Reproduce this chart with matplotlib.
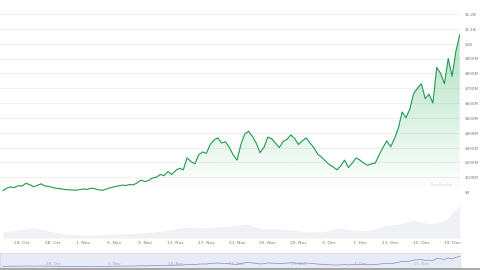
import numpy as np
import pandas as pd
import matplotlib
matplotlib.use("Agg")
import matplotlib.pyplot as plt
import matplotlib.dates as mdates

# market cap in $M, every 12 hours from 21 Oct 12:00
price_musd = [10, 25, 34, 30, 42, 40, 58, 50, 35, 45,
              55, 40, 38, 30, 25, 22, 18, 15, 14, 12,
              16, 20, 18, 26, 22, 14, 12, 20, 28, 35,
              40, 46, 44, 50, 48, 62, 80, 70, 78, 95,
              100, 118, 110, 138, 118, 145, 160, 150, 230, 205,
              190, 250, 270, 260, 320, 350, 365, 330, 338, 300,
              250, 215, 320, 390, 410, 375, 330, 265, 300, 370,
              360, 330, 300, 340, 355, 385, 360, 320, 345, 365,
              330, 300, 255, 235, 210, 185, 170, 150, 175, 215,
              165, 195, 230, 215, 195, 180, 190, 195, 250, 300,
              345, 305, 360, 430, 540, 500, 560, 665, 700, 730,
              630, 660, 600, 840, 800, 730, 900, 780, 950, 1060]

# volume in $M
volume_musd = [60, 80, 100, 70, 40, 30, 30, 40, 40, 50,
               60, 80, 110, 100, 110, 120, 140, 90, 90, 80,
               60, 60, 100, 80, 70, 120, 140, 180, 140, 170, 330]

y_ticks_musd = [0, 100, 200, 300, 400, 500, 600, 700, 800, 900, 1000, 1100, 1200]
y_tick_labels = ["$0", "$100M", "$200M", "$300M", "$400M", "$500M", "$600M",
                 "$700M", "$800M", "$900M", "$1B", "$1.1B", "$1.2B"]

x_tick_dates = ["2023-10-24", "2023-10-28", "2023-11-01", "2023-11-05", "2023-11-09",
                "2023-11-13", "2023-11-17", "2023-11-21", "2023-11-25", "2023-11-29",
                "2023-12-03", "2023-12-07", "2023-12-11", "2023-12-15", "2023-12-19"]
x_tick_labels = ["24. Oct", "28. Oct", "1. Nov", "5. Nov", "9. Nov", "13. Nov",
                 "17. Nov", "21. Nov", "25. Nov", "29. Nov", "3. Dec", "7. Dec",
                 "11. Dec", "15. Dec", "19. Dec"]

nav_tick_dates = ["2023-10-28", "2023-11-05", "2023-11-13", "2023-11-21",
                  "2023-11-29", "2023-12-07", "2023-12-15"]
nav_tick_labels = ["28. Oct", "5. Nov", "13. Nov", "21. Nov", "29. Nov", "7. Dec", "15. Dec"]

times = pd.date_range("2023-10-21 12:00", periods=len(price_musd), freq="12h")
vol_times = pd.date_range(times[0], times[-1], periods=len(volume_musd))
x = mdates.date2num(times)
xv = mdates.date2num(vol_times)
price = np.array(price_musd)

W, H = 480, 270
fig = plt.figure(figsize=(4.8, 2.7), dpi=100)
fig.patch.set_facecolor("white")

day0 = mdates.date2num(pd.Timestamp("2023-10-24"))
px_per_day = 7.68
xlim = (day0 - 22 / px_per_day, day0 + 438 / px_per_day)

# main chart
ax = fig.add_axes([0, 1 - 192 / H, 460 / W, 178 / H])
ax.set_xlim(xlim)
ax.set_ylim(0, 1200)
for v in y_ticks_musd:
    ax.axhline(v, color="#eeeeee", lw=0.6, zorder=0)

poly = ax.fill_between(x, price, 0, color="none", lw=0)
green = np.array(matplotlib.colors.to_rgb("#2fb463"))
grad = np.zeros((256, 1, 4))
grad[:, 0, :3] = green
grad[:, 0, 3] = np.linspace(0.38, 0.0, 256)
im = ax.imshow(grad, aspect="auto", extent=[x[0], x[-1], 0, price.max()],
               origin="upper", zorder=1, interpolation="bilinear")
im.set_clip_path(poly.get_paths()[0], transform=ax.transData)
ax.plot(x, price, color="#1f9a4c", lw=0.8, zorder=3, solid_joinstyle="round")

ax.yaxis.tick_right()
ax.set_yticks(y_ticks_musd)
ax.set_yticklabels(y_tick_labels)
ax.tick_params(axis="y", length=0, pad=3, labelsize=3.0, labelcolor="#777777")
ax.set_xticks([])
for s in ax.spines.values():
    s.set_visible(False)
ax.set_facecolor("none")
ax.text(0.985, 0.04, "CoinGecko", transform=ax.transAxes, ha="right", va="center",
        fontsize=3.2, color="#d2d2d2")

# volume
axv = fig.add_axes([0, 1 - 238 / H, 460 / W, 38 / H])
axv.set_xlim(xlim)
axv.set_ylim(0, 380)
axv.fill_between(xv, volume_musd, 0, color="#f0f1f4", lw=0)
axv.set_yticks([])
axv.set_xticks(mdates.date2num(pd.to_datetime(x_tick_dates)))
axv.set_xticklabels(x_tick_labels)
axv.tick_params(axis="x", length=0, pad=2.5, labelsize=3.2, labelcolor="#777777")
for s in axv.spines.values():
    s.set_visible(False)
axv.set_facecolor("none")

# navigator
axn = fig.add_axes([0, 1 - 268 / H, 460 / W, 15 / H])
axn.set_xlim(xlim)
axn.set_ylim(-150, 1400)
axn.set_facecolor("#e7ebf5")
axn.plot(x, price, color="#7f8fb8", lw=0.5)
axn.set_yticks([])
nav_pos = mdates.date2num(pd.to_datetime(nav_tick_dates))
for p, lab in zip(nav_pos, nav_tick_labels):
    axn.text(p, 50, lab, ha="center", va="bottom", fontsize=2.8, color="#a0a7b8")
axn.set_xticks([])
for s in axn.spines.values():
    s.set_color("#cfd5e3")
    s.set_linewidth(0.5)

fig.add_artist(plt.Line2D([0, 1], [0.004, 0.004], color="#9a9a9a", lw=1.2))

fig.savefig("out.png", dpi=100)
